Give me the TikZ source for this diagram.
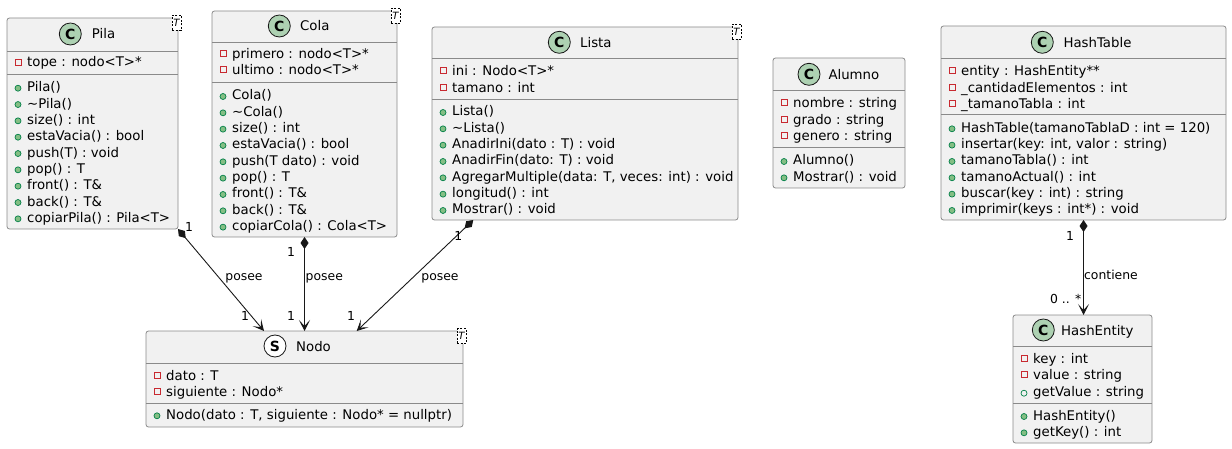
\documentclass[tikz,border=0pt]{standalone}
\usepackage{fontspec}
\setmainfont{DejaVu Sans}
\usetikzlibrary{arrows.meta}
\definecolor{boxfill}{HTML}{F1F1F1}
\definecolor{boxline}{HTML}{8A8A8A}
\definecolor{privred}{HTML}{C82930}
\definecolor{pubgreen}{HTML}{84BE84}
\definecolor{pubdark}{HTML}{038048}
\definecolor{clsicon}{HTML}{ADD1B2}
\definecolor{edgeline}{HTML}{181818}

\newcount\memcount
\newcommand{\privattr}[3]{%
  \draw[privred,line width=0.7pt] ({#1+8},{#2-3}) rectangle ({#1+14},{#2+3});
  \global\advance\memcount by 1
  \node[member] (mem\the\memcount) at ({#1+20},{#2+5}) {#3};}
\newcommand{\pubattr}[3]{%
  \draw[pubdark,line width=0.7pt] ({#1+11},{#2+1.5}) circle (3pt);
  \global\advance\memcount by 1
  \node[member] (mem\the\memcount) at ({#1+20},{#2+5}) {#3};}
\newcommand{\pubmeth}[3]{%
  \draw[pubdark,fill=pubgreen,line width=0.7pt] ({#1+11},{#2+1.5}) circle (3pt);
  \global\advance\memcount by 1
  \node[member] (mem\the\memcount) at ({#1+20},{#2+5}) {#3};}
\newcommand{\attrs}[3]{\foreach \txt [count=\i] in {#3} {\privattr{#1}{#2+16.33*(\i-1)}{\txt}}}
\newcommand{\methods}[3]{\foreach \txt [count=\i] in {#3} {\pubmeth{#1}{#2+16.33*(\i-1)}{\txt}}}

\begin{document}
\begin{tikzpicture}[x=1pt,y=-1pt,
    cls/.style={draw=boxline,fill=boxfill,line width=0.8pt,rounded corners=2.5pt,anchor=north west,inner sep=0pt,outer sep=0pt},
    sepline/.style={draw=boxline,line width=0.8pt},
    member/.style={anchor=base west,inner sep=0pt,font=\fontsize{13.3}{16}\selectfont},
    title/.style={anchor=base west,inner sep=0pt,font=\fontsize{13.3}{16}\selectfont},
    classicon/.style={circle,draw=edgeline,fill=clsicon,line width=0.8pt,minimum size=22pt,inner sep=0pt,font=\fontsize{14}{16}\selectfont\bfseries},
    tparam/.style={draw=black,dash pattern=on 2pt off 1.5pt,fill=white,line width=0.6pt,minimum width=9pt,minimum height=15pt,inner sep=0pt,font=\fontsize{10}{10}\selectfont\itshape},
    lbl/.style={anchor=base,inner sep=0pt,font=\fontsize{12.4}{15}\selectfont},
    comp/.style={draw=edgeline,line width=0.9pt,{Diamond[length=12pt,width=8pt]}-{Stealth[length=11pt,width=11pt,inset=6pt]}}]
  \useasboundingbox (0,0) rectangle (1232,449);

  \node[cls,minimum width=171pt,minimum height=211pt] (pila) at (7,18) {};
  \draw[sepline] (7,51) -- (178,51) (7,74) -- (178,74);
  \node[classicon] (pilaC) at (70.3,34) {C};
  \node[title] (pilaN) at (91.7,39) {Pila};
  \node[tparam] (pilaT) at (176.5,23) {T};
  \attrs{7}{62}{tope : nodo<T>*}
  \methods{7}{86.7}{Pila(), \textasciitilde Pila(), size() : int, estaVacia() : bool, push(T) : void, pop() : T, front() : T\&, back() : T\&, copiarPila() : Pila<T>}

  \node[cls,minimum width=185pt,minimum height=226pt] (cola) at (212,11) {};
  \draw[sepline] (212,42) -- (397,42) (212,82) -- (397,82);
  \node[classicon] (colaC) at (279.3,26) {C};
  \node[title] (colaN) at (300,31) {Cola};
  \node[tparam] (colaT) at (395.5,16) {T};
  \attrs{212}{53.3}{primero : nodo<T>*, ultimo : nodo<T>*}
  \methods{212}{95}{Cola(), \textasciitilde Cola(), size() : int, estaVacia() : bool, push(T dato) : void, pop() : T, front() : T\&, back() : T\&, copiarCola() : Cola<T>}

  \node[cls,minimum width=306pt,minimum height=193pt] (lista) at (432,27) {};
  \draw[sepline] (432,58) -- (738,58) (432,99) -- (738,99);
  \node[classicon] (listaC) at (559.3,42.3) {C};
  \node[title] (listaN) at (580,47.3) {Lista};
  \node[tparam] (listaT) at (736.5,32) {T};
  \attrs{432}{70.7}{ini : Nodo<T>*, tamano : int}
  \methods{432}{111}{Lista(), \textasciitilde Lista(), AnadirIni(dato : T) : void, AnadirFin(dato: T) : void, {AgregarMultiple(data: T, veces: int) : void}, longitud() : int, Mostrar() : void}

  \node[cls,minimum width=132pt,minimum height=130pt] (alumno) at (773,58) {};
  \draw[sepline] (773,90) -- (905,90) (773,147) -- (905,147);
  \node[classicon] (alumnoC) at (809,74.3) {C};
  \node[title] (alumnoN) at (828.3,79.3) {Alumno};
  \attrs{773}{102.7}{nombre : string, grado : string, genero : string}
  \methods{773}{160}{Alumno(), Mostrar() : void}

  \node[cls,minimum width=285pt,minimum height=194pt] (hashtable) at (941,26) {};
  \draw[sepline] (941,58) -- (1226,58) (941,114.5) -- (1226,114.5);
  \node[classicon] (hashtableC) at (1042.3,42.3) {C};
  \node[title] (hashtableN) at (1063.3,47.3) {HashTable};
  \attrs{941}{70.7}{entity : HashEntity**, \_cantidadElementos : int, \_tamanoTabla : int}
  \methods{941}{127.3}{HashTable(tamanoTablaD : int = 120), {insertar(key: int, valor : string)}, tamanoTabla() : int, tamanoActual() : int, buscar(key : int) : string, imprimir(keys : int*) : void}

  \node[cls,minimum width=139pt,minimum height=128pt] (hashentity) at (1013,315) {};
  \draw[sepline] (1013,346) -- (1152,346) (1013,403) -- (1152,403);
  \node[classicon] (hashentityC) at (1043.3,330) {C};
  \node[title] (hashentityN) at (1061,335) {HashEntity};
  \attrs{1013}{358.3}{key : int, value : string}
  \pubattr{1013}{391.7}{getValue : string}
  \methods{1013}{415}{HashEntity(), getKey() : int}

  \node[cls,minimum width=317pt,minimum height=96pt] (nodo) at (146,331) {};
  \draw[sepline] (146,363) -- (463,363) (146,403) -- (463,403);
  \node[classicon,fill=white] (nodoC) at (275,346) {S};
  \node[title] (nodoN) at (296,351) {Nodo};
  \node[tparam] (nodoT) at (461.5,336) {T};
  \attrs{146}{375}{dato : T, siguiente : Nodo*}
  \methods{146}{414.3}{{Nodo(dato : T, siguiente : Nodo* = nullptr)}}

  \draw[comp] (pila.south east) -- ([xshift=118pt]nodo.north west);
  \draw[comp] (cola.south) -- (cola.south |- nodo.north);
  \draw[comp] ([xshift=41.3pt]lista.south west) -- ([xshift=210.7pt]nodo.north west);
  \draw[comp] (hashtable.south) -- (hashtable.south |- hashentity.north);

  \node[lbl] (pilaM1) at (189,232) {1};
  \node[lbl] (pilaL) at (244,280) {posee};
  \node[lbl] (pilaM2) at (245,320) {1};
  \node[lbl] (colaM1) at (291,257) {1};
  \node[lbl] (colaL) at (324.3,280) {posee};
  \node[lbl] (colaM2) at (291,320) {1};
  \node[lbl] (listaM1) at (458.3,241) {1};
  \node[lbl] (listaL) at (440,280) {posee};
  \node[lbl] (listaM2) at (351,320) {1};
  \node[lbl] (hashtableM1) at (1070,241) {1};
  \node[lbl] (hashtableL) at (1111,279.5) {contiene};
  \node[lbl] (hashtableM2) at (1065.7,303.5) {0 .. *};
\end{tikzpicture}
\end{document}
